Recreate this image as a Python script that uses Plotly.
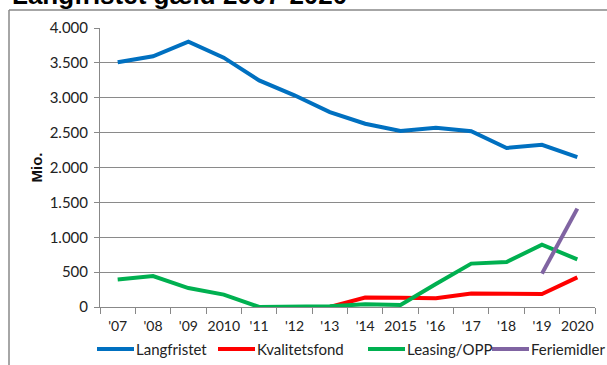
import plotly.graph_objects as go

categories = ["'07", "'08", "'09", "2010", "'11", "'12", "'13", "'14", "2015", "'16", "'17", "'18", "'19", "2020"]
langfristet = [3510, 3595, 3805, 3575, 3248, 3035, 2795, 2627, 2525, 2570, 2520, 2280, 2325, 2150]
kvalitetsfond = [None, None, None, None, None, None, 0, 135, 131, 126, 192, 186, 186, 425]
leasing = [393, 444, 272, 178, 0, 0, 10, 40, 30, 330, 622, 645, 894, 683]
feriemidler = [None] * 12 + [478, 1410]
yticks = [0, 500, 1000, 1500, 2000, 2500, 3000, 3500, 4000]

series = [
    ("Langfristet", langfristet, "#0070C0"),
    ("Kvalitetsfond", kvalitetsfond, "#FF0000"),
    ("Leasing/OPP", leasing, "#00B050"),
    ("Feriemidler", feriemidler, "#8064A2"),
]

W, H = 607, 365
L, R, T, B = 100, 12, 28, 58
pw, ph = W - L - R, H - T - B

def px_x(p):
    return (p - L) / pw

def px_y(p):
    return (H - B - p) / ph

fig = go.Figure()
for name, vals, color in series:
    fig.add_trace(go.Scatter(x=categories, y=vals, name=name, mode="lines",
                             line=dict(color=color, width=4), connectgaps=False,
                             showlegend=False))

# manual legend (start of line in px, as in the reference layout)
legend_x = [97, 218, 368, 492]
shapes = [
    dict(type="line", xref="paper", yref="paper", x0=px_x(9), x1=px_x(640), y0=px_y(10), y1=px_y(10),
         line=dict(color="#888", width=1.5)),
    dict(type="line", xref="paper", yref="paper", x0=px_x(9), x1=px_x(9), y0=px_y(10), y1=px_y(400),
         line=dict(color="#888", width=1.5)),
]
annotations = [
    dict(text="<b>Langfristet gæld 2007-2020</b>", xref="paper", yref="paper",
         x=px_x(10), y=px_y(12), xanchor="left", yanchor="bottom", showarrow=False,
         font=dict(family="Liberation Sans", size=26, color="#000")),
]
for (name, vals, color), lx in zip(series, legend_x):
    shapes.append(dict(type="line", xref="paper", yref="paper", x0=px_x(lx), x1=px_x(lx + 37),
                       y0=px_y(349), y1=px_y(349), line=dict(color=color, width=4)))
    annotations.append(dict(text=name, xref="paper", yref="paper", x=px_x(lx + 37), y=px_y(349),
                            xanchor="left", yanchor="middle", showarrow=False,
                            font=dict(family="Lato", size=15, color="#222")))

fig.update_layout(
    width=W, height=H,
    margin=dict(l=L, r=R, t=T, b=B),
    paper_bgcolor="white", plot_bgcolor="white",
    separators=",.",
    font=dict(family="Lato", size=14, color="#222"),
    showlegend=False,
    xaxis=dict(type="category", categoryorder="array", categoryarray=categories,
               showgrid=False, showline=True, linecolor="#888", linewidth=1,
               ticks="outside", tickson="boundaries", ticklen=6, tickcolor="#888",
               tickangle=0, automargin=False, ticklabelstandoff=6,
               tickfont=dict(size=14, family="Lato", color="#222"), range=[-0.5, 13.5]),
    yaxis=dict(range=[0, 4000], tickvals=yticks, tickformat=",d", showgrid=True,
               gridcolor="#8a8a8a", gridwidth=1, showline=True, linecolor="#888",
               ticks="outside", ticklen=5, tickcolor="#888", zeroline=False, automargin=False,
               ticklabelstandoff=3,
               tickfont=dict(size=15, family="Lato", color="#222"),
               title=dict(text="<b>Mio.</b>", font=dict(size=15, family="Liberation Sans", color="#111"),
                          standoff=3)),
    shapes=shapes,
    annotations=annotations,
)

fig.write_html("out.html")
